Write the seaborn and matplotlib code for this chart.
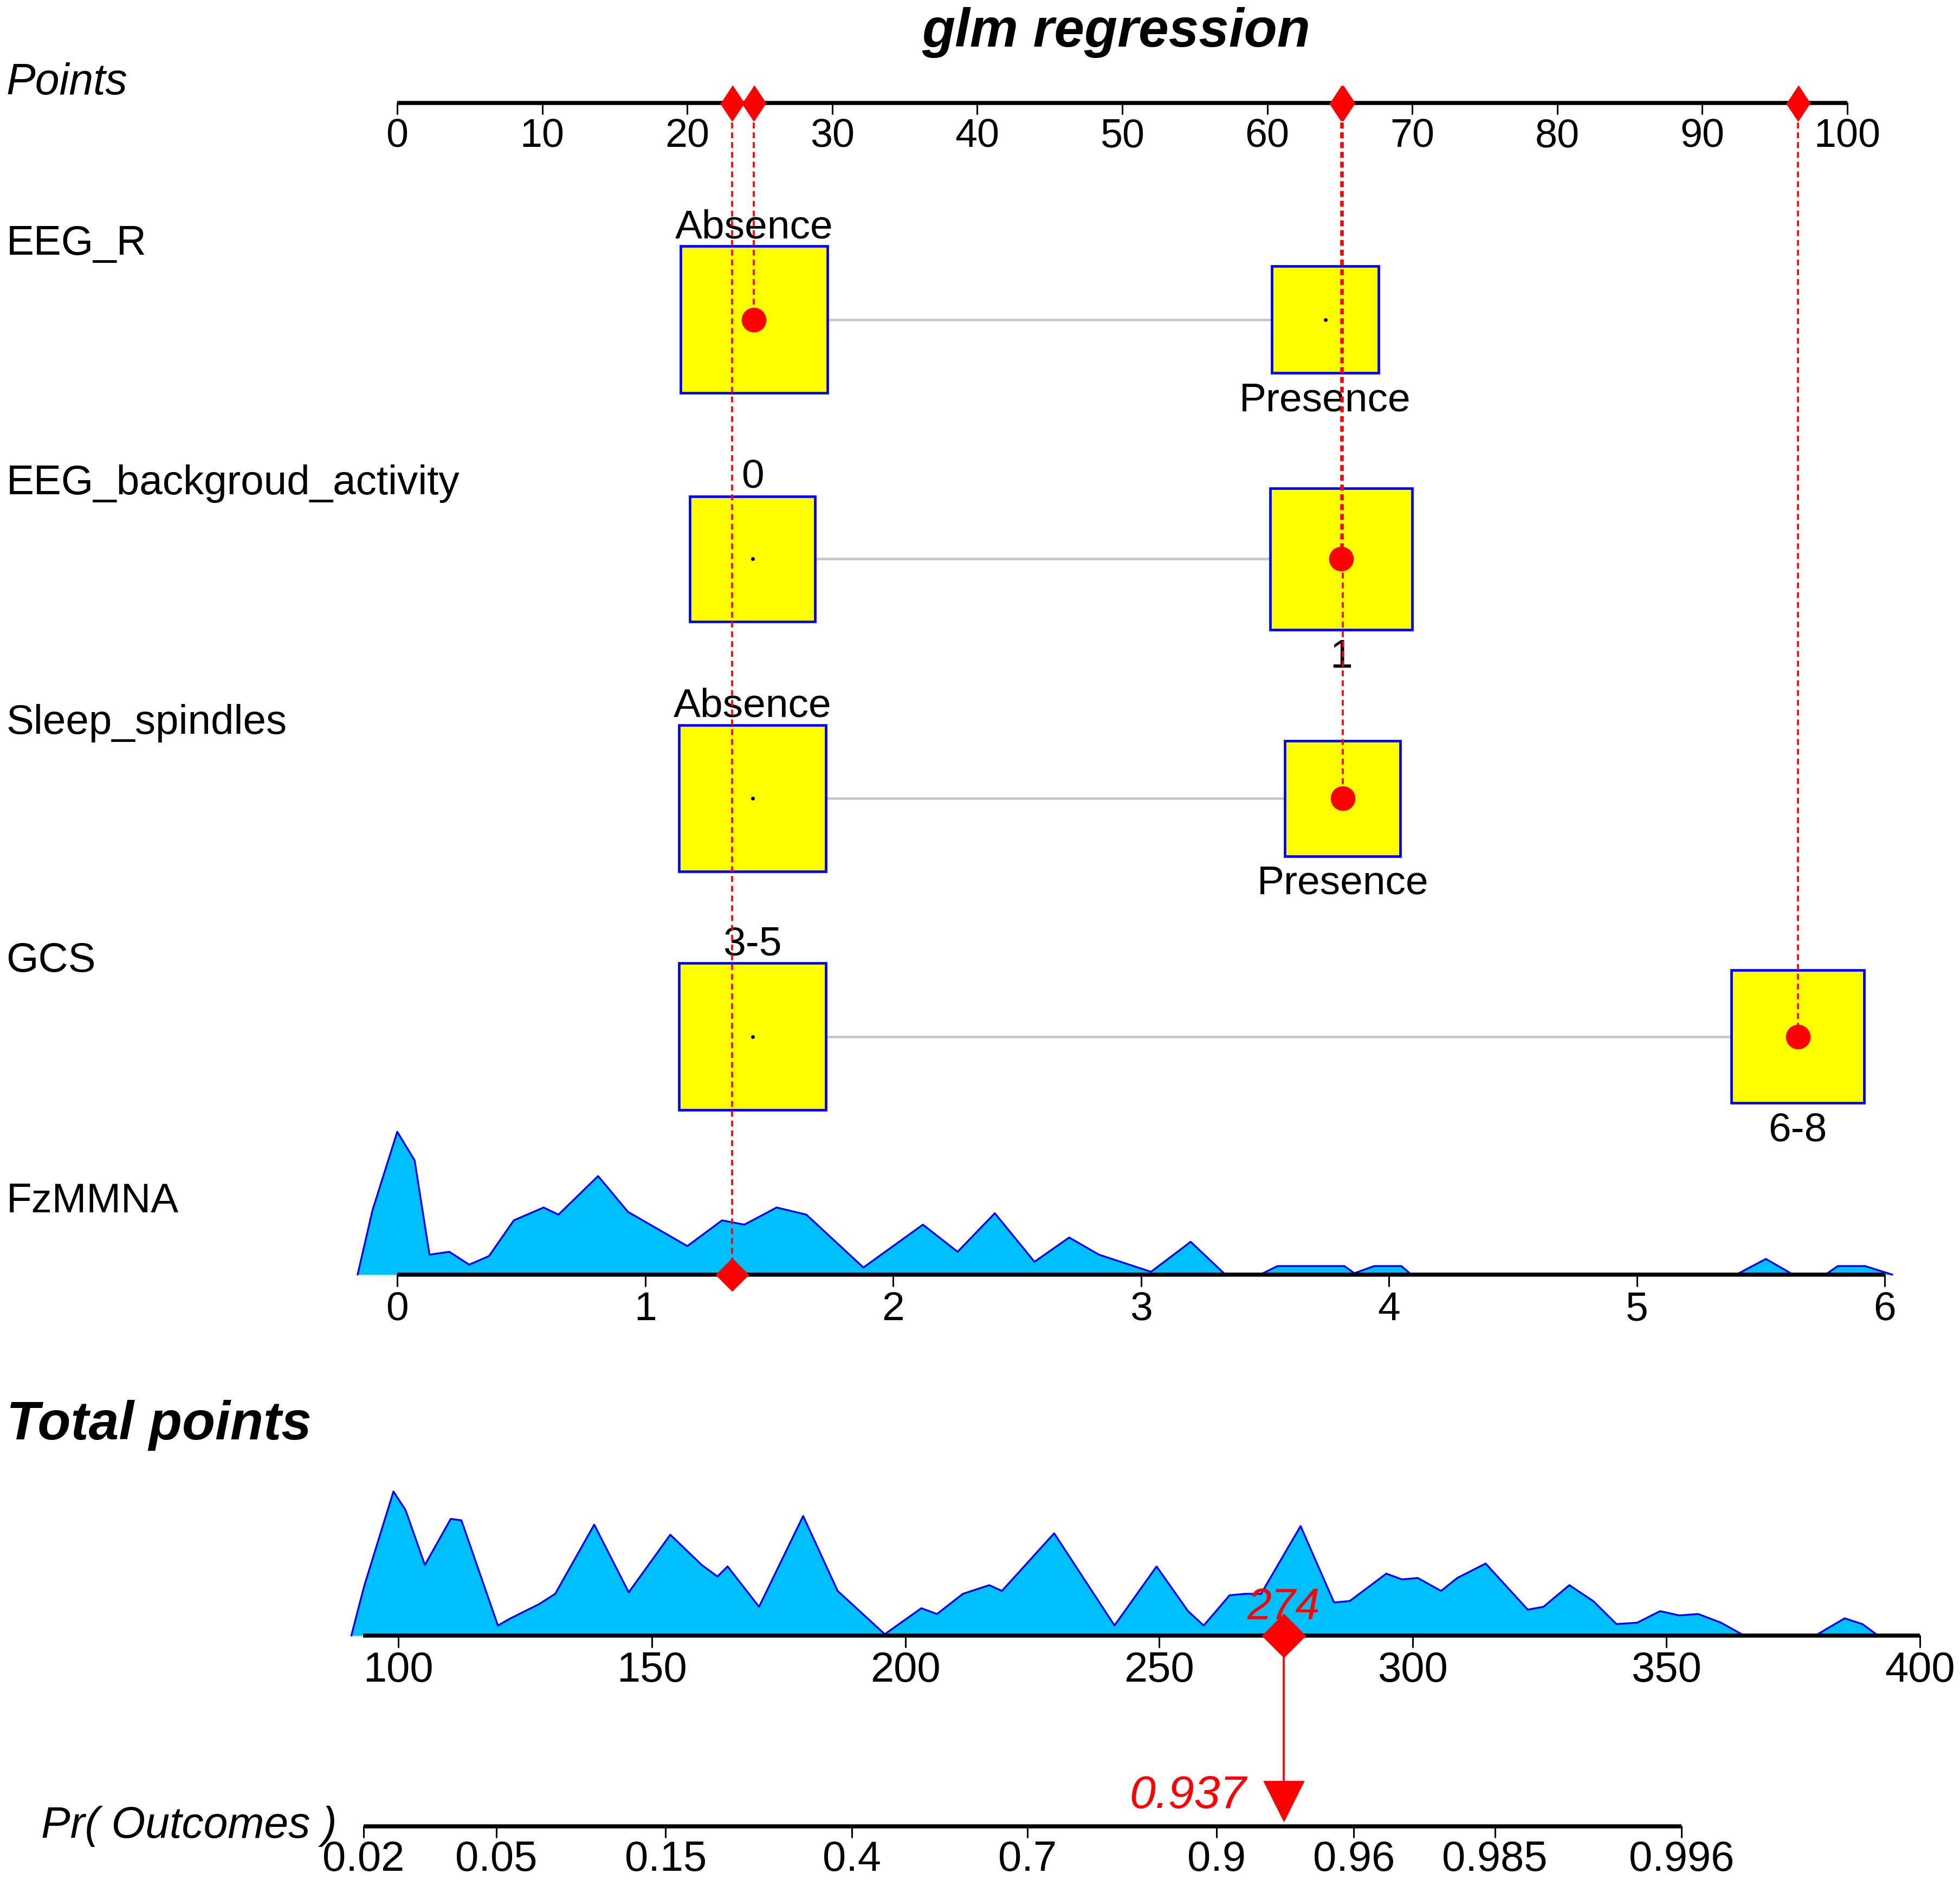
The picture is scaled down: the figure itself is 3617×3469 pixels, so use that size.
import numpy as np
import pandas as pd
import seaborn as sns
from matplotlib import pyplot as plt
from matplotlib.patches import Rectangle

# ---- chart data -------------------------------------------------------------
title = "glm regression"
point_ticks = list(range(0, 101, 10))

var_names = ["EEG_R", "EEG_backgroud_activity", "Sleep_spindles", "GCS"]
level_labels = [["Absence", "Presence"], ["0", "1"], ["Absence", "Presence"], ["3-5", "6-8"]]
level_points = [[24.6, 64.0], [24.5, 65.1], [24.5, 65.2], [24.5, 96.6]]
# box size ~ frequency of each level
box_sizes = [[117, 85], [100, 113], [117, 92], [117, 106]]
selected = [0, 1, 1, 1]

fz_name = "FzMMNA"
fz_ticks = [0, 1, 2, 3, 4, 5, 6]
fz_pts_per_unit = 17.1
fz_obs = 1.35
fz_x = [-0.16, -0.1, 0.0, 0.07, 0.13, 0.21, 0.29, 0.37, 0.47, 0.59, 0.65, 0.81, 0.93,
        1.17, 1.31, 1.40, 1.53, 1.65, 1.88, 2.12, 2.26, 2.41, 2.57, 2.71, 2.83, 3.04,
        3.20, 3.34, 3.48, 3.55, 3.82, 3.86, 3.94, 4.05, 4.09, 5.40, 5.52, 5.63, 5.76,
        5.81, 5.92, 6.03]
fz_h = [0, 0.45, 1.0, 0.80, 0.14, 0.16, 0.07, 0.13, 0.38, 0.47, 0.42, 0.69, 0.44,
        0.20, 0.38, 0.35, 0.47, 0.42, 0.05, 0.35, 0.16, 0.43, 0.09, 0.26, 0.14, 0.02,
        0.23, 0, 0, 0.06, 0.06, 0.01, 0.06, 0.06, 0, 0, 0.11, 0, 0,
        0.06, 0.06, 0]

total_ticks = [100, 150, 200, 250, 300, 350, 400]
total_x = [90.7, 93.2, 99.0, 101.4, 105.2, 110.3, 112.4, 119.6, 122.1, 127.8, 130.9,
           138.6, 145.4, 153.6, 159.8, 162.9, 164.9, 171.1, 179.8, 186.6, 195.9, 203.1,
           206.2, 211.3, 216.5, 219.0, 229.3, 241.2, 249.5, 255.7, 258.8, 263.9, 267.0,
           270.1, 277.9, 284.5, 287.6, 294.8, 297.9, 301.0, 305.6, 308.8, 314.4, 322.7,
           325.8, 330.9, 335.6, 340.2, 344.3, 348.8, 352.6, 356.3, 360.8, 365.4, 379.4,
           385.2, 388.7, 391.8]
total_h = [0, 0.34, 1.0, 0.87, 0.49, 0.81, 0.80, 0.07, 0.12, 0.22, 0.29,
           0.77, 0.30, 0.70, 0.49, 0.41, 0.48, 0.20, 0.83, 0.31, 0.01, 0.19,
           0.15, 0.29, 0.35, 0.31, 0.71, 0.07, 0.48, 0.17, 0.07, 0.28, 0.29,
           0.29, 0.76, 0.23, 0.24, 0.43, 0.39, 0.40, 0.31, 0.40, 0.50, 0.18,
           0.20, 0.35, 0.24, 0.08, 0.09, 0.17, 0.14, 0.15, 0.09, 0, 0,
           0.12, 0.08, 0]
total_label = "274"

pr_ticks = [0.02, 0.05, 0.15, 0.4, 0.7, 0.9, 0.96, 0.985, 0.996]
pr_obs_label = "0.937"
lp_intercept = -7.262
lp_slope = 0.0362

# ---- layout -----------------------------------------------------------------
W, H = 1564, 1500            # layout units (scaled to 3617 x 3469 px)
PX = 11.57                   # layout units per point
X0 = 317                     # position of 0 points
row_y = [255, 446, 637, 827]
fz_base = 1017
tot_base = 1305
pr_y = 1457
pts_y = 82

RED = "#FF0000"
BLUE = "#0000FF"
FILL = "#00BFFF"


def total_to_x(tp):
    return 0.086 + (np.asarray(tp) - 100) * (105.0 - 0.086) / 300


def pr_to_x(p):
    p = np.asarray(p)
    lp = np.log(p / (1 - p))
    return total_to_x((lp - lp_intercept) / lp_slope)


def axis_line(ax, x0, x1, y, ticks_x, labels, fs, tick_len=9, lab_dy=26):
    ax.plot([x0, x1], [y, y], color="black", lw=2.7, solid_capstyle="butt", zorder=3)
    for tx, lab in zip(ticks_x, labels):
        ax.plot([tx, tx], [y, y + tick_len], color="black", lw=1.1, zorder=3)
        ax.text(tx, y + lab_dy, lab, ha="center", va="center", fontsize=fs)


sns.set_style("white")
plt.rcParams["font.family"] = ["Liberation Sans", "DejaVu Sans"]
plt.rcParams["text.color"] = "black"

fig = plt.figure(figsize=(3617 / 200, 3469 / 200), dpi=200)
ax = fig.add_axes([0, 0, 1, 1])
ax.set_xlim(-X0 / PX, (W - X0) / PX)
ax.set_ylim(H, 0)
ax.axis("off")
ylab = ax.get_yaxis_transform()
xl = 5 / W

# title and points scale
ax.text(total_to_x(100) + 49.5, 26, title, ha="center", va="center",
        fontsize=36, fontweight="bold", fontstyle="italic")
ax.text(xl, 66, "Points", transform=ylab, ha="left", va="center",
        fontsize=29, fontstyle="italic")
axis_line(ax, 0, 100, pts_y, point_ticks, [str(t) for t in point_ticks], 26.5, lab_dy=27)

obs_points = []

# categorical variables
for i, name in enumerate(var_names):
    yc = row_y[i]
    ax.text(xl, yc - 60, name, transform=ylab, ha="left", va="center", fontsize=27.5)
    pts = level_points[i]
    ax.plot([pts[0], pts[-1]], [yc, yc], color="#C8C8C8", lw=1.7, zorder=1)
    for j, (p, s, lab) in enumerate(zip(pts, box_sizes[i], level_labels[i])):
        ax.add_patch(Rectangle((p - s / 2 / PX, yc - s / 2), s / PX, s,
                               facecolor="#FFFF00", edgecolor=BLUE, lw=1.7, zorder=2))
        if j == 0:
            ax.text(p, yc - s / 2 - 15, lab, ha="center", va="center", fontsize=27)
        else:
            ax.text(p, yc + s / 2 + 22, lab, ha="center", va="center", fontsize=27)
        if j != selected[i]:
            ax.plot(p, yc, "o", color="black", ms=1.5, zorder=3)
    sel_p = pts[selected[i]]
    obs_points.append(sel_p)
    ax.plot([sel_p, sel_p], [pts_y, yc], color=RED, lw=1.3, ls=(0, (3, 2)), zorder=4)
    sns.scatterplot(x=[sel_p], y=[yc], color=RED, s=230, marker="o",
                    edgecolor=RED, ax=ax, zorder=5, legend=False)

# continuous variable: FzMMNA
ax.text(xl, fz_base - 58, fz_name, transform=ylab, ha="left", va="center", fontsize=27.5)
fz_df = pd.DataFrame({"x": np.array(fz_x) * fz_pts_per_unit,
                      "y": fz_base - np.array(fz_h) * 114})
ax.fill_between(fz_df.x, fz_df.y, fz_base, color=FILL, lw=0, zorder=1)
sns.lineplot(data=fz_df, x="x", y="y", sort=False, estimator=None,
             color=BLUE, lw=1.2, ax=ax, zorder=2)
axis_line(ax, 0, 6 * fz_pts_per_unit, fz_base,
          [t * fz_pts_per_unit for t in fz_ticks], [str(t) for t in fz_ticks], 27, lab_dy=28)
fz_p = fz_obs * fz_pts_per_unit
obs_points.append(fz_p)
ax.plot([fz_p, fz_p], [pts_y, fz_base], color=RED, lw=1.3, ls=(0, (3, 2)), zorder=4)
ax.plot(fz_p, fz_base, marker="D", color=RED, ms=15, zorder=5)

# diamonds on the points scale
diamond = [(0, 1), (0.66, 0), (0, -1), (-0.66, 0)]
for p in obs_points:
    ax.plot(p, pts_y, marker=diamond, color=RED, ms=23, zorder=5)

# total points
ax.text(xl, 1137, "Total points", transform=ylab, ha="left", va="center",
        fontsize=36, fontweight="bold", fontstyle="italic")
tot_df = pd.DataFrame({"x": total_to_x(total_x), "y": tot_base - np.array(total_h) * 115})
ax.fill_between(tot_df.x, tot_df.y, tot_base, color=FILL, lw=0, zorder=1)
sns.lineplot(data=tot_df, x="x", y="y", sort=False, estimator=None,
             color=BLUE, lw=1.2, ax=ax, zorder=2)
axis_line(ax, total_to_x(93), total_to_x(400), tot_base, total_to_x(total_ticks),
          [str(t) for t in total_ticks], 28, lab_dy=28)

tot_obs = sum(obs_points)
tx = total_to_x(tot_obs)
ax.plot([tx, tx], [tot_base, pr_y - 22], color=RED, lw=1.3, zorder=4)
ax.plot(tx, tot_base, marker="D", color=RED, ms=20, zorder=5)
ax.text(tx, 1283, total_label, ha="center", va="center", fontsize=29,
        fontstyle="italic", color=RED, zorder=6)
ax.plot(tx, pr_y - 20, marker="v", color=RED, ms=26, zorder=5)
ax.text(tx - 2.6, 1433, pr_obs_label, ha="right", va="center", fontsize=31,
        fontstyle="italic", color=RED)

# probability scale
ax.text(33 / W, pr_y, "Pr( Outcomes )", transform=ylab, ha="left", va="center",
        fontsize=29, fontstyle="italic")
axis_line(ax, pr_to_x(pr_ticks[0]), pr_to_x(pr_ticks[-1]), pr_y, pr_to_x(pr_ticks),
          [str(t) for t in pr_ticks], 28, lab_dy=27)

fig.savefig("out.png", dpi=200, facecolor="white")
